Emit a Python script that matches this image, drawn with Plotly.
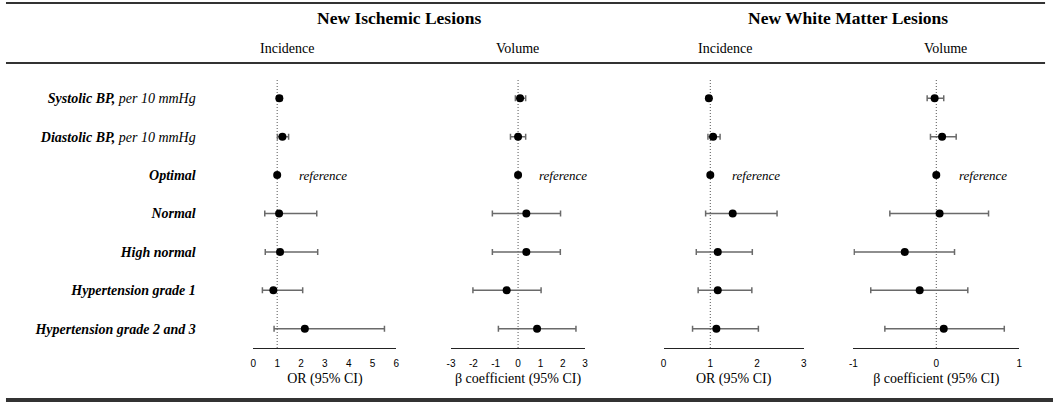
import plotly.graph_objects as go

# Row labels (top to bottom)
rows = [
    "<b><i>Systolic BP,</i></b><i> per 10 mmHg</i>",
    "<b><i>Diastolic BP,</i></b><i> per 10 mmHg</i>",
    "<b><i>Optimal</i></b>",
    "<b><i>Normal</i></b>",
    "<b><i>High normal</i></b>",
    "<b><i>Hypertension grade 1</i></b>",
    "<b><i>Hypertension grade 2 and 3</i></b>",
]

# New ischemic lesions - incidence (OR, 95% CI)
isch_inc_est = [1.09, 1.22, 1.00, 1.08, 1.12, 0.84, 2.16]
isch_inc_lo = [1.00, 1.01, 1.00, 0.48, 0.50, 0.38, 0.87]
isch_inc_hi = [1.20, 1.48, 1.00, 2.66, 2.70, 2.07, 5.50]

# New ischemic lesions - volume (beta, 95% CI)
isch_vol_est = [0.09, 0.00, 0.00, 0.37, 0.37, -0.51, 0.85]
isch_vol_lo = [-0.12, -0.34, 0.00, -1.15, -1.15, -2.02, -0.88]
isch_vol_hi = [0.34, 0.34, 0.00, 1.90, 1.89, 1.03, 2.59]

# New white matter lesions - incidence (OR, 95% CI)
wml_inc_est = [0.97, 1.06, 1.00, 1.48, 1.16, 1.16, 1.13]
wml_inc_lo = [0.92, 0.95, 1.00, 0.90, 0.70, 0.74, 0.62]
wml_inc_hi = [1.02, 1.21, 1.00, 2.43, 1.90, 1.89, 2.03]

# New white matter lesions - volume (beta, 95% CI)
wml_vol_est = [-0.02, 0.07, 0.00, 0.04, -0.38, -0.20, 0.09]
wml_vol_lo = [-0.11, -0.07, 0.00, -0.56, -0.99, -0.79, -0.62]
wml_vol_hi = [0.09, 0.24, 0.00, 0.63, 0.22, 0.38, 0.82]

# tick labels (plain hyphen as in the original)
or6_ticks = ["0", "1", "2", "3", "4", "5", "6"]
beta3_ticks = ["-3", "-2", "-1", "0", "1", "2", "3"]
or3_ticks = ["0", "1", "2", "3"]
beta1_ticks = ["-1", "0", "1"]

W, H = 1056, 403
SERIF = "Liberation Serif, Times New Roman, serif"
SANS = "Liberation Sans, Arial, sans-serif"


def px(x):
    return x / W


def py(y):
    return 1 - y / H


panels = [
    dict(est=isch_inc_est, lo=isch_inc_lo, hi=isch_inc_hi, rng=[0, 6], ref=1,
         dom=[251, 395], ticks=or6_ticks, title="OR (95% CI)", note_x=295),
    dict(est=isch_vol_est, lo=isch_vol_lo, hi=isch_vol_hi, rng=[-3, 3], ref=0,
         dom=[450, 585], ticks=beta3_ticks, title="β coefficient (95% CI)", note_x=537),
    dict(est=wml_inc_est, lo=wml_inc_lo, hi=wml_inc_hi, rng=[0, 3], ref=1,
         dom=[664, 805], ticks=or3_ticks, title="OR (95% CI)", note_x=731),
    dict(est=wml_vol_est, lo=wml_vol_lo, hi=wml_vol_hi, rng=[-1, 1], ref=0,
         dom=[855, 1022], ticks=beta1_ticks, title="β coefficient (95% CI)", note_x=959),
]

ypos = list(range(len(rows)))
fig = go.Figure()
shapes = []
annotations = []

for i, p in enumerate(panels):
    ax = "x" if i == 0 else f"x{i + 1}"
    fig.add_trace(go.Scatter(
        x=p["est"], y=ypos, xaxis=ax, yaxis="y", mode="markers",
        marker=dict(color="black", size=8),
        error_x=dict(type="data", symmetric=False,
                     array=[h - e for h, e in zip(p["hi"], p["est"])],
                     arrayminus=[e - l for e, l in zip(p["est"], p["lo"])],
                     color="#6a6a6a", thickness=1.5, width=3),
        showlegend=False, hoverinfo="skip",
    ))
    key = "xaxis" if i == 0 else f"xaxis{i + 1}"
    fig.layout[key] = dict(
        domain=[px(p["dom"][0]), px(p["dom"][1])], range=p["rng"], anchor="y",
        showline=True, linecolor="#222", linewidth=1.3, showgrid=False, zeroline=False,
        tickvals=[float(t) for t in p["ticks"]], ticktext=p["ticks"], ticks="", ticklabelstandoff=6,
        tickfont=dict(family=SANS, size=10, color="black"),
        title=dict(text=p["title"], font=dict(family=SERIF, size=14, color="black"), standoff=5),
    )
    # dotted line of no effect
    shapes.append(dict(type="line", xref=ax, yref="y domain", x0=p["ref"], x1=p["ref"], y0=0, y1=1,
                       line=dict(color="#555", width=1, dash="1px,2px"), layer="below"))
    # "reference" note on the Optimal row
    annotations.append(dict(text="<i>reference</i>", xref="paper", yref="y", x=px(p["note_x"]), y=2,
                            xanchor="left", yanchor="middle", showarrow=False,
                            font=dict(family=SERIF, size=13, color="black")))

fig.layout.yaxis = dict(
    domain=[py(348), py(79)], range=[6.5, -0.5], anchor="free", position=px(193),
    tickvals=ypos, ticktext=rows, ticks="", showline=False, showgrid=False, zeroline=False,
    tickfont=dict(family=SERIF, size=14, color="black"),
)

# headers
for text, x, y, size in [
    ("<b>New Ischemic Lesions</b>", 398, 18, 17.5),
    ("<b>New White Matter Lesions</b>", 850, 18, 17.5),
    ("Incidence", 285, 48, 14),
    ("Volume", 517, 48, 14),
    ("Incidence", 726, 48, 14),
    ("Volume", 948, 48, 14),
]:
    annotations.append(dict(text=text, xref="paper", yref="paper", x=px(x), y=py(y),
                            xanchor="center", yanchor="middle", showarrow=False,
                            font=dict(family=SERIF, size=size, color="black")))

# horizontal rules
for y, x1, w in [(3, 1048, 2), (63, 1048, 2), (400, 1056, 4)]:
    shapes.append(dict(type="line", xref="paper", yref="paper", x0=px(2), x1=px(x1), y0=py(y), y1=py(y),
                       line=dict(color="#333", width=w)))

fig.update_layout(
    width=W, height=H, margin=dict(l=0, r=0, t=0, b=0),
    paper_bgcolor="white", plot_bgcolor="white",
    shapes=shapes, annotations=annotations,
)

# drop the default page margin so the figure sits at the window corner
fig.write_html("out.html", config={"displayModeBar": False},
               post_script="document.body.style.margin='0';")
